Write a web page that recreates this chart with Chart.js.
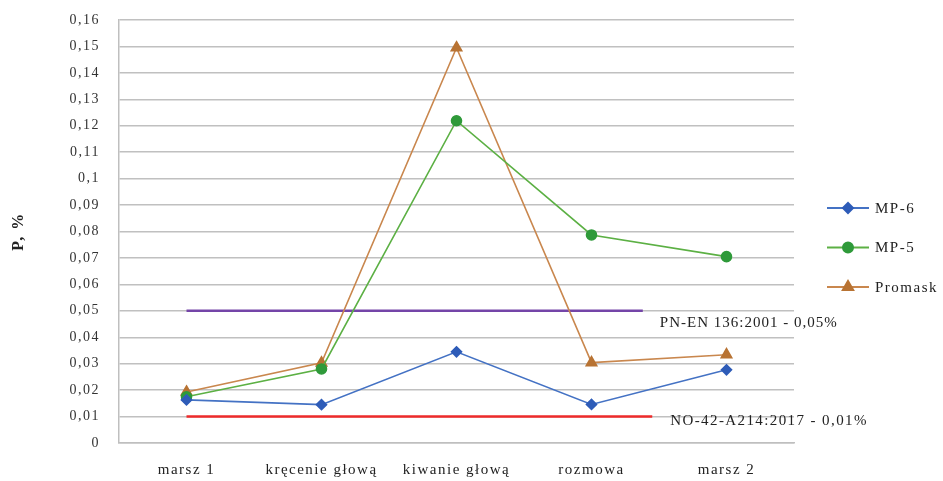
<!DOCTYPE html>
<html>
<head>
<meta charset="utf-8">
<script src="https://cdn.jsdelivr.net/npm/chart.js@4.4.1/dist/chart.umd.min.js"></script>
<style>
    html, body { margin: 0; padding: 0; background: #fff; }
    #wrap { width: 943px; height: 481px; }
</style>
</head>
<body>
<div id="wrap"><canvas id="chart"></canvas></div>
<script>
// Datos
const categorias = ['marsz 1', 'kręcenie głową', 'kiwanie głową', 'rozmowa', 'marsz 2'];
const mp6 = [0.0163, 0.0145, 0.0345, 0.0146, 0.0277];
const mp5 = [0.0175, 0.028, 0.1219, 0.0787, 0.0705];
const promask = [0.0193, 0.0303, 0.1495, 0.0304, 0.0334];

// Líneas de referencia (normas)
const normaPN = 0.05;
const normaNO = 0.01;
const normaPNrango = [0.5, 3.88];
const normaNOrango = [0.5, 3.95];
const etiquetaPN = 'PN-EN 136:2001 - 0,05%';
const etiquetaNO = 'NO-42-A214:2017 - 0,01%';

const yTicks = [0, 0.01, 0.02, 0.03, 0.04, 0.05, 0.06, 0.07, 0.08, 0.09, 0.1, 0.11, 0.12, 0.13, 0.14, 0.15, 0.16];

const serif = "'Liberation Serif', 'DejaVu Serif', serif";
const series = [
    { label: 'MP-6', data: mp6, color: '#4472c4', marker: '#2e5cb8', style: 'rectRot', radius: 5 },
    { label: 'MP-5', data: mp5, color: '#5cb044', marker: '#2f9a3a', style: 'circle', radius: 5 },
    { label: 'Promask', data: promask, color: '#c9874e', marker: '#b87333', style: 'triangle', radius: 6 }
];

// Espaciado de letras (la fuente original es más ancha)
const espaciadoPlugin = {
    id: 'espaciado',
    beforeDraw(chart) {
        chart.ctx.letterSpacing = '1.5px';
    }
};

// Etiquetas de las normas y leyenda personalizada
const extrasPlugin = {
    id: 'extras',
    afterDraw(chart) {
        const ctx = chart.ctx;
        const x2 = chart.scales.x2;
        const y = chart.scales.y;
        ctx.save();
        ctx.font = '15px ' + serif;
        ctx.fillStyle = '#222';
        ctx.textBaseline = 'middle';
        ctx.textAlign = 'left';
        ctx.letterSpacing = '1px';
        ctx.fillText(etiquetaPN, x2.getPixelForValue(normaPNrango[1]) + 17, y.getPixelForValue(normaPN) + 12);
        ctx.letterSpacing = '1.4px';
        ctx.fillText(etiquetaNO, x2.getPixelForValue(normaNOrango[1]) + 18, y.getPixelForValue(normaNO) + 4);

        // Leyenda
        ctx.letterSpacing = '1.5px';
        const lx = 827, ly = 208, step = 39.5;
        series.forEach((s, i) => {
            const yy = ly + i * step;
            ctx.strokeStyle = s.color;
            ctx.lineWidth = 2;
            ctx.beginPath();
            ctx.moveTo(lx, yy);
            ctx.lineTo(lx + 42, yy);
            ctx.stroke();
            ctx.fillStyle = s.marker;
            ctx.strokeStyle = s.marker;
            Chart.helpers.drawPoint(ctx, { pointStyle: s.style, radius: s.radius, borderWidth: 1 }, lx + 21, yy);
            ctx.fillStyle = '#222';
            ctx.fillText(s.label, lx + 48, yy + 1);
        });
        ctx.restore();
    }
};

const datasets = series.map(s => ({
    label: s.label,
    data: s.data,
    borderColor: s.color,
    backgroundColor: s.marker,
    pointBorderColor: s.marker,
    pointStyle: s.style,
    pointRadius: s.radius,
    borderWidth: 1.6,
    tension: 0,
    xAxisID: 'x',
    order: 1
}));

datasets.push({
    label: etiquetaPN,
    data: [{ x: normaPNrango[0], y: normaPN }, { x: normaPNrango[1], y: normaPN }],
    borderColor: '#7445a8',
    borderWidth: 2.5,
    pointRadius: 0,
    xAxisID: 'x2',
    order: 2
});
datasets.push({
    label: etiquetaNO,
    data: [{ x: normaNOrango[0], y: normaNO }, { x: normaNOrango[1], y: normaNO }],
    borderColor: '#ee2a2a',
    borderWidth: 2.5,
    pointRadius: 0,
    xAxisID: 'x2',
    order: 2
});

new Chart(document.getElementById('chart'), {
    type: 'line',
    data: { labels: categorias, datasets: datasets },
    plugins: [espaciadoPlugin, extrasPlugin],
    options: {
        responsive: true,
        maintainAspectRatio: false,
        animation: false,
        layout: { padding: { top: 20, right: 149, bottom: 0, left: 0 } },
        plugins: {
            legend: { display: false },
            tooltip: { enabled: false }
        },
        scales: {
            x: {
                type: 'category',
                offset: true,
                grid: { display: false },
                border: { color: '#bfbfbf', width: 1.5 },
                ticks: { color: '#222', font: { family: serif, size: 15 }, padding: 10, maxRotation: 0 },
                afterFit(scale) { scale.height = 38; }
            },
            x2: {
                type: 'linear',
                min: 0,
                max: 5,
                display: false
            },
            y: {
                min: 0,
                max: 0.16,
                afterBuildTicks(scale) { scale.ticks = yTicks.map(v => ({ value: v })); },
                grid: { color: '#c0c0c0', lineWidth: 1.5, drawTicks: true, tickLength: 10, tickColor: 'rgba(0,0,0,0)' },
                border: { color: '#bfbfbf', width: 1.5 },
                ticks: {
                    color: '#333',
                    font: { family: serif, size: 14 },
                    padding: 9,
                    callback: v => String(+v.toFixed(2)).replace('.', ',')
                },
                title: {
                    display: true,
                    text: 'P, %',
                    color: '#222',
                    font: { family: serif, size: 16, weight: 'bold' },
                    padding: { top: 9, bottom: 0 }
                },
                afterFit(scale) { scale.width = 119; }
            }
        }
    }
});
</script>
</body>
</html>
